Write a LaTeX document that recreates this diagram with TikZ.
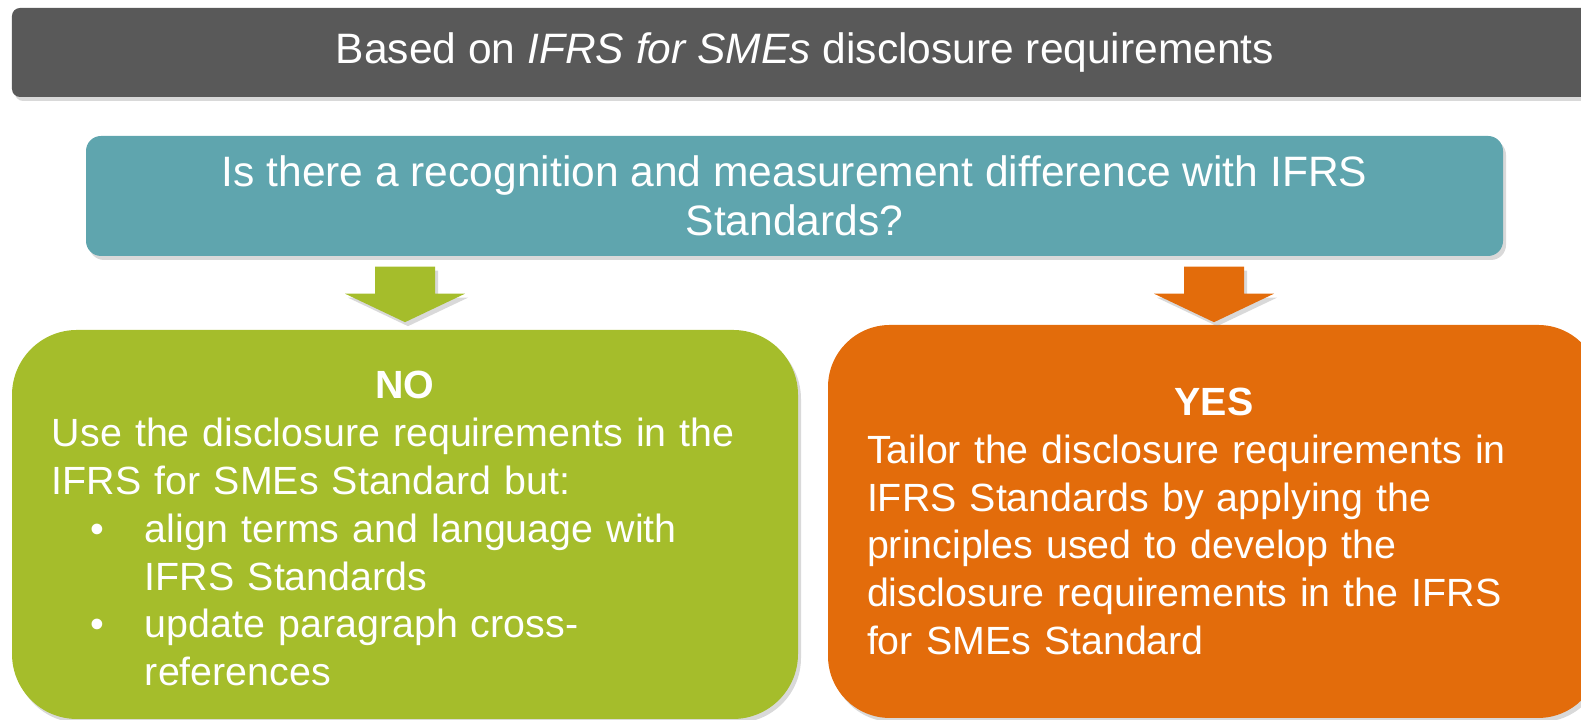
\documentclass[tikz,border=0pt]{standalone}
\usepackage{fontspec}
\setmainfont{Liberation Sans}
\usetikzlibrary{shadows}

\definecolor{headgray}{HTML}{595959}
\definecolor{quteal}{HTML}{5FA5AE}
\definecolor{nogreen}{HTML}{A5BD2B}
\definecolor{yesorange}{HTML}{E36C0B}

\begin{document}
\begin{tikzpicture}[
	shade/.style={drop shadow={opacity=0.3, shadow xshift=0.03cm, shadow yshift=-0.04cm}},
	box/.style={rounded corners=#1, text=white, shade, inner sep=0pt},
	bigfont/.style={font=\fontsize{12.1}{13.8}\selectfont},
	boxfont/.style={font=\fontsize{11.2}{13.6}\selectfont},
	pics/downarrow/.style={code={
		\fill[#1, shade] (-0.3,0) -- (0.3,0) -- (0.3,-0.27) -- (0.6,-0.27) -- (0,-0.555)
			-- (-0.6,-0.27) -- (-0.3,-0.27) -- cycle;
	}}
]
\useasboundingbox (0,0) rectangle (15.81,7.20);

\node[box=0.08cm, fill=headgray, bigfont, minimum width=15.86cm, minimum height=0.89cm]
	(header) at (8.05,6.675) {Based on \textit{IFRS for SMEs} disclosure requirements};

\node[box=0.15cm, fill=quteal, bigfont, align=center, minimum width=14.17cm, minimum height=1.2cm]
	(question) at (7.945,5.24) {Is there a recognition and measurement difference with IFRS\\Standards?};

\node[box=0.65cm, fill=nogreen, boxfont, align=left, text width=7.06cm, minimum width=7.86cm, minimum height=3.89cm]
	(noBox) at (4.05,1.955) {
	\makebox[\linewidth]{\rule{0pt}{0.36cm}\bfseries NO}\\
	Use the disclosure requirements in the\\
	IFRS for SMEs Standard but:\\
	\hspace*{0.38cm}\makebox[0.55cm][l]{\textbullet}align terms and language with\\
	\hspace*{0.93cm}IFRS Standards\\
	\hspace*{0.38cm}\makebox[0.55cm][l]{\textbullet}update paragraph cross-\\
	\hspace*{0.93cm}references
};

\node[box=0.62cm, fill=yesorange, boxfont, align=left, text width=6.94cm, minimum width=7.72cm, minimum height=3.93cm]
	(yesBox) at (12.14,1.985) {
	\makebox[\linewidth]{\bfseries YES}\\
	Tailor the disclosure requirements in\\
	IFRS Standards by applying the\\
	principles used to develop the\\
	disclosure requirements in the IFRS\\
	for SMEs Standard
};

\coordinate[yshift=-0.1cm] (noArrow) at (question.south -| noBox.north);
\coordinate[yshift=-0.1cm] (yesArrow) at (question.south -| yesBox.north);
\pic at (noArrow) {downarrow=nogreen};
\pic at (yesArrow) {downarrow=yesorange};
\end{tikzpicture}
\end{document}
